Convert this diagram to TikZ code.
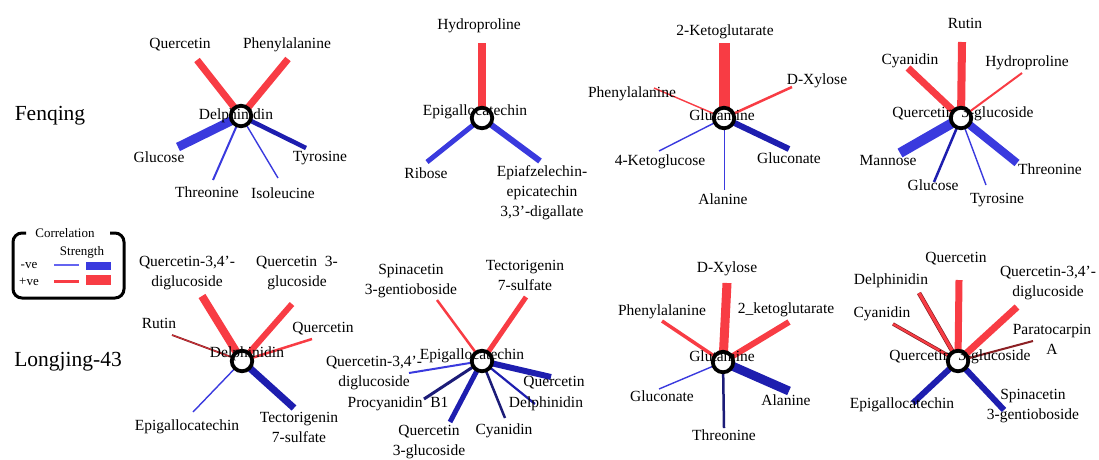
\documentclass[tikz,border=0pt]{standalone}
\usepackage{fontspec}
\setmainfont{Liberation Serif}
\definecolor{pr}{RGB}{248,60,68}
\definecolor{nb}{RGB}{58,58,222}
\definecolor{nl}{RGB}{100,100,240}
\definecolor{db}{RGB}{30,30,175}
\definecolor{nv}{RGB}{28,28,120}
\definecolor{dr}{RGB}{140,32,36}
\begin{document}
\begin{tikzpicture}[x=1pt,y=1pt,
  lbl/.style={font=\fontsize{15.5}{20}\selectfont, inner sep=0pt, align=center},
  rowtitle/.style={font=\fontsize{21.5}{24}\selectfont, inner sep=0pt},
  leg/.style={font=\fontsize{13}{15}\selectfont, inner sep=0pt},
  hub/.style={circle, draw=black, line width=3.8pt, fill=white, minimum size=20.5pt, inner sep=0pt},
  pos/.style={draw=pr, line width=#1},
  neg/.style={draw=nb, line width=#1},
  negd/.style={draw=db, line width=#1},
  navy/.style={draw=nv, line width=#1},
  darkr/.style={draw=dr, line width=#1},
  posout/.style={draw=dr, line width=#1, postaction={draw=pr, line width=#1-1.4pt}}]
\useasboundingbox (0,0) rectangle (1099,-459);

% row titles
\node[rowtitle] (tF) at (50,-116) {Fenqing};
\node[rowtitle] (tL) at (68,-362) {Longjing-43};

% legend
\draw[line width=3pt, rounded corners=9pt] (26,-233) -- (13,-233) -- (13,-298) -- (124,-298) -- (124,-233) -- (110,-233);
\node[leg] (lgT) at (65,-233) {Correlation};
\node[leg] (lgS) at (82,-252) {Strength};
\node[leg] (lgN) at (29,-265) {-ve};
\node[leg] (lgP) at (29,-282) {+ve};
\draw[nl, line width=1.2pt] (54,-265) -- (79,-265);
\fill[nb] (86,-261.5) rectangle (111,-269.5);
\draw[pr, line width=2.2pt] (54,-281.5) -- (79,-281.5);
\fill[pr] (86,-275) rectangle (111,-284.5);

% ===== Diagram 1: Fenqing Delphinidin
\coordinate (h1) at (241,-116);
\coordinate (a1) at (197,-60);
\coordinate (a2) at (288,-59);
\coordinate (a3) at (178,-147);
\coordinate (a4) at (213,-180);
\coordinate (a5) at (278,-178);
\coordinate (a6) at (306,-148);
\draw[pos=7pt] (h1) -- (a1);
\draw[pos=7pt] (h1) -- (a2);
\draw[neg=9pt] (h1) -- (a3);
\draw[neg=2pt] (h1) -- (a4);
\draw[neg=1.4pt] (h1) -- (a5);
\draw[negd=4.5pt] (h1) -- (a6);
\node[hub] (H1) at (h1) {};
\node[lbl] (L1a) at (180,-45) {Quercetin};
\node[lbl] (L1b) at (287,-45) {Phenylalanine};
\node[lbl] (L1c) at (236,-116) {Delphinidin};
\node[lbl] (L1d) at (159,-157) {Glucose};
\node[lbl] (L1e) at (207,-192) {Threonine};
\node[lbl] (L1f) at (283,-193) {Isoleucine};
\node[lbl] (L1g) at (320,-158) {Tyrosine};

% ===== Diagram 2: Fenqing Epigallocatechin
\coordinate (h2) at (482,-118);
\coordinate (b1) at (482,-43);
\coordinate (b2) at (427,-162);
\coordinate (b3) at (540,-161);
\draw[pos=8pt] (h2) -- (b1);
\draw[neg=5pt] (h2) -- (b2);
\draw[neg=6pt] (h2) -- (b3);
\node[hub] (H2) at (h2) {};
\node[lbl] (L2a) at (479,-26) {Hydroproline};
\node[lbl] (L2b) at (475,-112) {Epigallocatechin};
\node[lbl] (L2c) at (426,-173) {Ribose};
\node[lbl] (L2d) at (542,-193) {Epiafzelechin-\\epicatechin\\3,3'-digallate};

% ===== Diagram 3: Fenqing Glutamine
\coordinate (h3) at (724,-118);
\coordinate (c1) at (724,-43);
\coordinate (c2) at (792,-87);
\coordinate (c3) at (654,-88);
\coordinate (c4) at (659,-151);
\coordinate (c5) at (724,-190);
\coordinate (c6) at (789,-149);
\draw[pos=11pt] (h3) -- (c1);
\draw[pos=2.5pt] (h3) -- (c2);
\draw[pos=1.4pt] (h3) -- (c3);
\draw[neg=1.4pt] (h3) -- (c4);
\draw[neg=1pt] (h3) -- (c5);
\draw[negd=6pt] (h3) -- (c6);
\node[hub] (H3) at (h3) {};
\node[lbl] (L3a) at (725,-32) {2-Ketoglutarate};
\node[lbl] (L3b) at (817,-81) {D-Xylose};
\node[lbl] (L3c) at (632,-94) {Phenylalanine};
\node[lbl] (L3d) at (722,-115) {Glutamine};
\node[lbl] (L3e) at (660,-162) {4-Ketoglucose};
\node[lbl] (L3f) at (789,-158) {Gluconate};
\node[lbl] (L3g) at (723,-199) {Alanine};

% ===== Diagram 4: Fenqing Quercetin 3-glucoside
\coordinate (h4) at (961,-118);
\coordinate (d1) at (962,-42);
\coordinate (d2) at (908,-68);
\coordinate (d3) at (1022,-73);
\coordinate (d4) at (900,-153);
\coordinate (d5) at (934,-182);
\coordinate (d6) at (986,-185);
\coordinate (d7) at (1017,-163);
\draw[pos=8pt] (h4) -- (d1);
\draw[pos=7pt] (h4) -- (d2);
\draw[pos=2pt] (h4) -- (d3);
\draw[neg=10pt] (h4) -- (d4);
\draw[negd=2.5pt] (h4) -- (d5);
\draw[neg=1.4pt] (h4) -- (d6);
\draw[neg=8pt] (h4) -- (d7);
\node[hub] (H4) at (h4) {};
\node[lbl] (L4a) at (965,-23) {Rutin};
\node[lbl] (L4b) at (910,-61) {Cyanidin};
\node[lbl] (L4c) at (1027,-63) {Hydroproline};
\node[lbl] (L4d) at (963,-114) {Quercetin\ \ 3-glucoside};
\node[lbl] (L4e) at (888,-160) {Mannose};
\node[lbl] (L4f) at (933,-185) {Glucose};
\node[lbl] (L4g) at (1050,-169) {Threonine};
\node[lbl] (L4h) at (997,-200) {Tyrosine};

% ===== Diagram 5: Longjing Delphinidin
\coordinate (h5) at (242,-361);
\coordinate (e1) at (202,-296);
\coordinate (e2) at (292,-304);
\coordinate (e3) at (172,-335);
\coordinate (e4) at (312,-339);
\coordinate (e5) at (193,-412);
\coordinate (e6) at (294,-408);
\draw[pos=8pt] (h5) -- (e1);
\draw[pos=6pt] (h5) -- (e2);
\draw[posout=1.8pt] (h5) -- (e3);
\draw[pos=2.5pt] (h5) -- (e4);
\draw[neg=1.4pt] (h5) -- (e5);
\draw[negd=7pt] (h5) -- (e6);
\node[hub] (H5) at (h5) {};
\node[lbl] (L5a) at (187,-273) {Quercetin-3,4'-\\diglucoside};
\node[lbl] (L5b) at (297,-273) {Quercetin\ \ 3-\\glucoside};
\node[lbl] (L5c) at (159,-323) {Rutin};
\node[lbl] (L5d) at (323,-329) {Quercetin};
\node[lbl] (L5e) at (247,-354) {Delphinidin};
\node[lbl] (L5f) at (187,-427) {Epigallocatechin};
\node[lbl] (L5g) at (299,-427) {Tectorigenin\\7-sulfate};

% ===== Diagram 6: Longjing Epigallocatechin
\coordinate (h6) at (482,-361);
\coordinate (f1) at (437,-300);
\coordinate (f2) at (526,-297);
\coordinate (f3) at (409,-373);
\coordinate (f4) at (424,-399);
\coordinate (f5) at (450,-422);
\coordinate (f6) at (505,-418);
\coordinate (f7) at (535,-404);
\coordinate (f8) at (551,-377);
\draw[pos=2.5pt] (h6) -- (f1);
\draw[pos=5pt] (h6) -- (f2);
\draw[neg=2pt] (h6) -- (f3);
\draw[navy=3pt] (h6) -- (f4);
\draw[negd=5pt] (h6) -- (f5);
\draw[navy=2.5pt] (h6) -- (f6);
\draw[negd=2.2pt] (h6) -- (f7);
\draw[negd=6pt] (h6) -- (f8);
\node[hub] (H6) at (h6) {};
\node[lbl] (L6a) at (411,-281) {Spinacetin\\3-gentioboside};
\node[lbl] (L6b) at (525,-275) {Tectorigenin\\7-sulfate};
\node[lbl] (L6c) at (374,-373) {Quercetin-3,4'-\\diglucoside};
\node[lbl] (L6d) at (472,-356) {Epigallocatechin};
\node[lbl] (L6e) at (398,-404) {Procyanidin\ \ B1};
\node[lbl] (L6f) at (429,-442) {Quercetin\\3-glucoside};
\node[lbl] (L6g) at (504,-431) {Cyanidin};
\node[lbl] (L6h) at (546,-404) {Delphinidin};
\node[lbl] (L6i) at (554,-383) {Quercetin};

% ===== Diagram 7: Longjing Glutamine
\coordinate (h7) at (723,-362);
\coordinate (g1) at (727,-283);
\coordinate (g2) at (662,-321);
\coordinate (g3) at (789,-322);
\coordinate (g4) at (659,-389);
\coordinate (g5) at (724,-428);
\coordinate (g6) at (789,-391);
\draw[pos=9pt] (h7) -- (g1);
\draw[pos=3.5pt] (h7) -- (g2);
\draw[pos=6pt] (h7) -- (g3);
\draw[neg=1.4pt] (h7) -- (g4);
\draw[navy=2.5pt] (h7) -- (g5);
\draw[negd=9pt] (h7) -- (g6);
\node[hub] (H7) at (h7) {};
\node[lbl] (L7a) at (727,-269) {D-Xylose};
\node[lbl] (L7b) at (662,-312) {Phenylalanine};
\node[lbl] (L7c) at (786,-310) {2\_ketoglutarate};
\node[lbl] (L7d) at (722,-356) {Glutamine};
\node[lbl] (L7e) at (662,-396) {Gluconate};
\node[lbl] (L7f) at (786,-400) {Alanine};
\node[lbl] (L7g) at (724,-435) {Threonine};

% ===== Diagram 8: Longjing Quercetin 3-glucoside
\coordinate (h8) at (958,-361);
\coordinate (k1) at (959,-280);
\coordinate (k2) at (919,-293);
\coordinate (k3) at (893,-324);
\coordinate (k4) at (1017,-307);
\coordinate (k5) at (1033,-341);
\coordinate (k6) at (913,-403);
\coordinate (k7) at (1004,-410);
\draw[pos=7pt] (h8) -- (k1);
\draw[posout=4.5pt] (h8) -- (k2);
\draw[posout=3.5pt] (h8) -- (k3);
\draw[pos=7pt] (h8) -- (k4);
\draw[darkr=2pt] (h8) -- (k5);
\draw[negd=6pt] (h8) -- (k6);
\draw[negd=6pt] (h8) -- (k7);
\node[hub] (H8) at (h8) {};
\node[lbl] (L8a) at (956,-259) {Quercetin};
\node[lbl] (L8b) at (891,-281) {Delphinidin};
\node[lbl] (L8c) at (882,-314) {Cyanidin};
\node[lbl] (L8d) at (1048,-283) {Quercetin-3,4'-\\diglucoside};
\node[lbl] (L8e) at (1052,-339) {Paratocarpin\\A};
\node[lbl] (L8f) at (960,-357) {Quercetin\ \ 3-glucoside};
\node[lbl] (L8g) at (902,-405) {Epigallocatechin};
\node[lbl] (L8h) at (1033,-406) {Spinacetin\\3-gentioboside};
\end{tikzpicture}
\end{document}
